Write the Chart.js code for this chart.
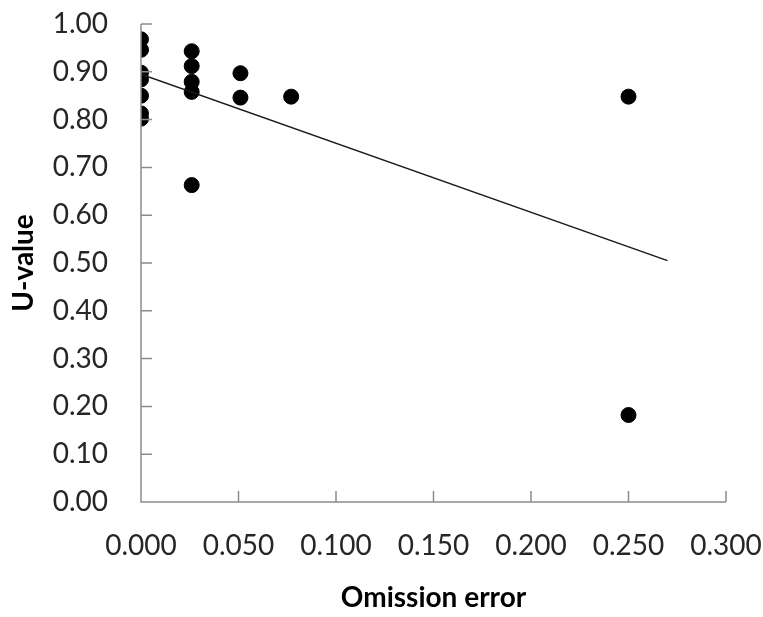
<!DOCTYPE html>
<html>
<head>
<meta charset="utf-8">
<script src="https://cdn.jsdelivr.net/npm/chart.js@4.4.1/dist/chart.umd.min.js"></script>
<style>
  html, body { margin: 0; padding: 0; background: #ffffff; }
  #wrap { width: 763px; height: 617px; }
</style>
</head>
<body>
<div id="wrap"><canvas id="chart" width="763" height="617"></canvas></div>
<script>
// Omission error (x) vs U-value (y) for each sample
const omissionError = [
  0, 0, 0, 0, 0, 0, 0,
  0.026, 0.026, 0.026, 0.026, 0.026,
  0.051, 0.051,
  0.077,
  0.25, 0.25
];
const uValue = [
  0.968, 0.946, 0.898, 0.884, 0.850, 0.813, 0.802,
  0.943, 0.912, 0.879, 0.858, 0.663,
  0.897, 0.846,
  0.848,
  0.848, 0.182
];
// Linear trend line end points
const trendX = [0, 0.27];
const trendY = [0.895, 0.505];

const xTicks = [0, 0.05, 0.1, 0.15, 0.2, 0.25, 0.3];
const yTicks = [0, 0.1, 0.2, 0.3, 0.4, 0.5, 0.6, 0.7, 0.8, 0.9, 1.0];

const FONT = 'Lato, "Open Sans", sans-serif';
const AXIS_COLOR = '#8c8c8c';
const TICK_LEN = 11;

// Axis lines with inward tick marks
const axisPlugin = {
  id: 'inwardAxes',
  afterDatasetsDraw(chart) {
    const { ctx, scales: { x, y } } = chart;
    ctx.save();
    ctx.strokeStyle = AXIS_COLOR;
    ctx.lineWidth = 1.5;
    const x0 = x.getPixelForValue(0);
    const y0 = y.getPixelForValue(0);
    ctx.beginPath();
    ctx.moveTo(x0, y.getPixelForValue(1));
    ctx.lineTo(x0, y0);
    ctx.lineTo(x.getPixelForValue(0.3), y0);
    yTicks.forEach(v => {
      const py = y.getPixelForValue(v);
      ctx.moveTo(x0, py);
      ctx.lineTo(x0 + TICK_LEN, py);
    });
    xTicks.forEach(v => {
      const px = x.getPixelForValue(v);
      ctx.moveTo(px, y0);
      ctx.lineTo(px, y0 - TICK_LEN);
    });
    ctx.stroke();
    ctx.restore();
  }
};

// Keep the plot box fixed: no extra room reserved for overhanging end labels
function clearPadding(s) {
  s.paddingTop = 0;
  s.paddingBottom = 0;
  s.paddingLeft = 0;
  s.paddingRight = 0;
}

new Chart(document.getElementById('chart'), {
  type: 'scatter',
  data: {
    datasets: [
      {
        label: 'U-value',
        data: omissionError.map((v, i) => ({ x: v, y: uValue[i] })),
        backgroundColor: '#000000',
        borderColor: '#000000',
        pointRadius: 7.5,
        pointHoverRadius: 7.5,
        order: 2
      },
      {
        label: 'Linear trend',
        type: 'line',
        data: trendX.map((v, i) => ({ x: v, y: trendY[i] })),
        borderColor: '#1a1a1a',
        borderWidth: 1.5,
        pointRadius: 0,
        fill: false,
        order: 1
      }
    ]
  },
  options: {
    responsive: false,
    animation: false,
    events: [],
    layout: { autoPadding: false, padding: { top: 24, right: 37, left: 0, bottom: 0 } },
    plugins: {
      legend: { display: false },
      tooltip: { enabled: false }
    },
    scales: {
      x: {
        type: 'linear',
        min: 0,
        max: 0.3,
        afterBuildTicks: s => { s.ticks = xTicks.map(v => ({ value: v })); },
        afterFit: s => { s.height = 617 - 502; clearPadding(s); },
        grid: { display: false, drawTicks: false },
        border: { display: false },
        ticks: {
          color: '#262626',
          font: { family: FONT, size: 28 },
          padding: 27,
          maxRotation: 0,
          callback: v => v.toFixed(3)
        },
        title: {
          display: true,
          text: 'Omission error',
          color: '#000000',
          font: { family: FONT, size: 28, weight: 'bold' },
          padding: { top: 0, bottom: 2 }
        }
      },
      y: {
        type: 'linear',
        min: 0,
        max: 1,
        afterBuildTicks: s => { s.ticks = yTicks.map(v => ({ value: v })); },
        afterFit: s => { s.width = 141; clearPadding(s); },
        grid: { display: false, drawTicks: false },
        border: { display: false },
        ticks: {
          color: '#262626',
          font: { family: FONT, size: 28 },
          padding: 33,
          callback: v => v.toFixed(2)
        },
        title: {
          display: true,
          text: 'U-value',
          color: '#000000',
          font: { family: FONT, size: 28, weight: 'bold' },
          padding: { top: 7, bottom: 0 }
        }
      }
    }
  },
  plugins: [axisPlugin]
});
</script>
</body>
</html>
